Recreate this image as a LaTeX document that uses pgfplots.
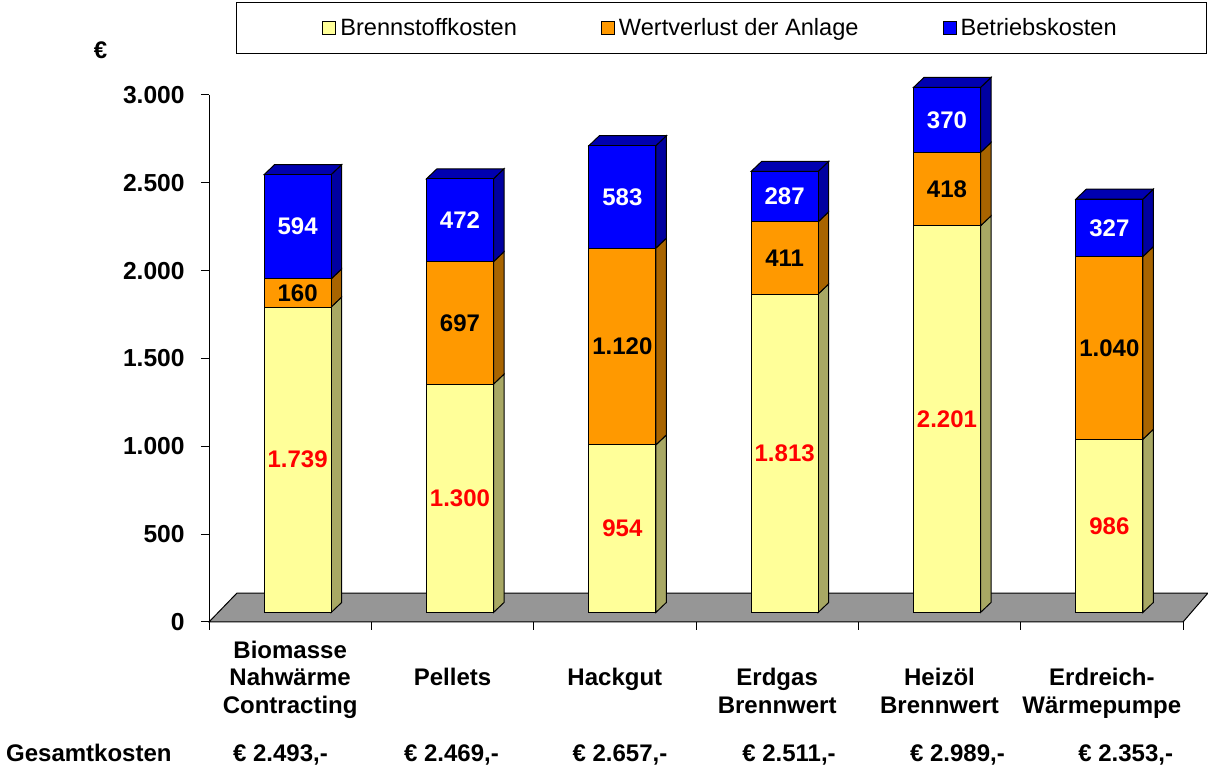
\documentclass[border=0pt]{standalone}
\usepackage{pgfplots}
\pgfplotsset{compat=1.18}
\usepackage{pgfplotstable}
\usepackage{fontspec}
\setmainfont{Liberation Sans}

\definecolor{yel}{RGB}{255,255,153}
\definecolor{yelS}{RGB}{168,168,100}
\definecolor{ora}{RGB}{255,153,0}
\definecolor{oraS}{RGB}{168,100,0}
\definecolor{blu}{RGB}{0,0,255}
\definecolor{bluS}{RGB}{0,0,160}
\definecolor{bluT}{RGB}{0,0,176}
\definecolor{floorgray}{RGB}{150,150,150}

\pgfplotstableread{
x B W Be
0 1739 160 594
1 1300 697 472
2 954 1120 583
3 1813 411 287
4 2201 418 370
5 986 1040 327
}\data

\begin{document}
\begin{tikzpicture}
\useasboundingbox (-104.5pt,-73.5pt) rectangle (499.5pt,311pt);
\pgfplotsset{
  base/.style={scale only axis, width=487pt, height=263.5pt,
    xmin=-0.5, xmax=5.5, ymin=0, ymax=3000, clip=false},
  face/.style={draw=black, line width=0.5pt},
  barlab/.style={nodes near coords={\pgfmathprintnumber[assume math mode=true,1000 sep={.}]{\pgfplotspointmeta}},
    every node near coord/.append style={anchor=center, text=#1,
    font=\bfseries\fontsize{12}{14}\selectfont}},
}
% ---------- front plane: axes and floor ----------
\begin{axis}[base,
  axis x line*=bottom, axis y line*=left,
  axis line style={black, line width=0.5pt},
  tick align=outside,
  major tick length=4pt, minor tick length=4pt,
  ytick={0,500,...,3000},
  y tick style={black, line width=0.5pt},
  yticklabel={\bfseries\fontsize{12.3}{14}\selectfont\pgfmathprintnumber[assume math mode=true,1000 sep={.}]{\tick}},
  yticklabel style={inner sep=0pt, anchor=east, xshift=-8pt},
  xtick={0,...,5},
  major x tick style={draw=none},
  minor xtick={-0.5,0.5,...,5.5},
  minor x tick style={black, line width=0.5pt},
  xticklabel style={font=\bfseries\fontsize{12}{13.75}\selectfont, align=center, anchor=north, yshift=-1pt},
  xticklabels={{\strut Biomasse\\Nahwärme\\Contracting},{\strut\\Pellets},{\strut\\Hackgut},{\strut\\Erdgas\\Brennwert},{\strut\\Heizöl\\Brennwert},{\strut\\Erdreich-\\Wärmepumpe}},
]
\addplot[fill=floorgray, face] coordinates {(-0.5,0) (5.5,0) (5.654,165) (-0.3275,165)} -- cycle;
\end{axis}

% ---------- side and top faces of the bars ----------
\begin{axis}[base, at={(3.75pt,4.75pt)}, hide axis]
% bar 0
\addplot[fill=yelS, face] coordinates {(0.2064,0) (0.2711,57) (0.2711,1796) (0.2064,1739)} -- cycle;
\addplot[fill=oraS, face] coordinates {(0.2064,1739) (0.2711,1796) (0.2711,1956) (0.2064,1899)} -- cycle;
\addplot[fill=bluS, face] coordinates {(0.2064,1899) (0.2711,1956) (0.2711,2550) (0.2064,2493)} -- cycle;
\addplot[fill=bluT, face] coordinates {(-0.2064,2493) (-0.1417,2550) (0.2711,2550) (0.2064,2493)} -- cycle;
% bar 1
\addplot[fill=yelS, face] coordinates {(1.2064,0) (1.2711,57) (1.2711,1357) (1.2064,1300)} -- cycle;
\addplot[fill=oraS, face] coordinates {(1.2064,1300) (1.2711,1357) (1.2711,2054) (1.2064,1997)} -- cycle;
\addplot[fill=bluS, face] coordinates {(1.2064,1997) (1.2711,2054) (1.2711,2526) (1.2064,2469)} -- cycle;
\addplot[fill=bluT, face] coordinates {(0.7936,2469) (0.8583,2526) (1.2711,2526) (1.2064,2469)} -- cycle;
% bar 2
\addplot[fill=yelS, face] coordinates {(2.2064,0) (2.2711,57) (2.2711,1011) (2.2064,954)} -- cycle;
\addplot[fill=oraS, face] coordinates {(2.2064,954) (2.2711,1011) (2.2711,2131) (2.2064,2074)} -- cycle;
\addplot[fill=bluS, face] coordinates {(2.2064,2074) (2.2711,2131) (2.2711,2714) (2.2064,2657)} -- cycle;
\addplot[fill=bluT, face] coordinates {(1.7936,2657) (1.8583,2714) (2.2711,2714) (2.2064,2657)} -- cycle;
% bar 3
\addplot[fill=yelS, face] coordinates {(3.2064,0) (3.2711,57) (3.2711,1870) (3.2064,1813)} -- cycle;
\addplot[fill=oraS, face] coordinates {(3.2064,1813) (3.2711,1870) (3.2711,2281) (3.2064,2224)} -- cycle;
\addplot[fill=bluS, face] coordinates {(3.2064,2224) (3.2711,2281) (3.2711,2568) (3.2064,2511)} -- cycle;
\addplot[fill=bluT, face] coordinates {(2.7936,2511) (2.8583,2568) (3.2711,2568) (3.2064,2511)} -- cycle;
% bar 4
\addplot[fill=yelS, face] coordinates {(4.2064,0) (4.2711,57) (4.2711,2258) (4.2064,2201)} -- cycle;
\addplot[fill=oraS, face] coordinates {(4.2064,2201) (4.2711,2258) (4.2711,2676) (4.2064,2619)} -- cycle;
\addplot[fill=bluS, face] coordinates {(4.2064,2619) (4.2711,2676) (4.2711,3046) (4.2064,2989)} -- cycle;
\addplot[fill=bluT, face] coordinates {(3.7936,2989) (3.8583,3046) (4.2711,3046) (4.2064,2989)} -- cycle;
% bar 5
\addplot[fill=yelS, face] coordinates {(5.2064,0) (5.2711,57) (5.2711,1043) (5.2064,986)} -- cycle;
\addplot[fill=oraS, face] coordinates {(5.2064,986) (5.2711,1043) (5.2711,2083) (5.2064,2026)} -- cycle;
\addplot[fill=bluS, face] coordinates {(5.2064,2026) (5.2711,2083) (5.2711,2410) (5.2064,2353)} -- cycle;
\addplot[fill=bluT, face] coordinates {(4.7936,2353) (4.8583,2410) (5.2711,2410) (5.2064,2353)} -- cycle;
\end{axis}

% ---------- front faces: stacked bars ----------
\begin{axis}[base, at={(3.75pt,4.75pt)}, hide axis,
  ybar stacked, bar width=33.5pt,
  legend columns=3,
  legend image code/.code={\draw[#1, draw=black, line width=0.5pt] (0pt,-3.25pt) rectangle (6.5pt,3.25pt);},
  legend style={at={(axis description cs:0.5185,1.1091)}, anchor=center,
    draw=black, line width=0.5pt, inner xsep=43pt, inner ysep=5.5pt,
    font=\fontsize{11.8}{14}\selectfont,
    /tikz/every even column/.append style={column sep=40pt}},
]
\addplot[fill=yel, face, point meta=explicit, barlab=red]
  table[x=x, y=B, meta=B] {\data};
\addplot[fill=ora, face, point meta=explicit, barlab=black]
  table[x=x, y=W, meta=W] {\data};
\addplot[fill=blu, face, point meta=explicit, barlab=white]
  table[x=x, y=Be, meta=Be] {\data};
\legend{Brennstoffkosten, Wertverlust der Anlage, Betriebskosten}
\end{axis}

% ---------- texts outside the axes ----------
\begin{scope}[every node/.style={font=\bfseries\fontsize{12}{14}\selectfont, inner sep=0pt}]
\node[anchor=base] at (-54.25pt,281.5pt) {€};
\node[anchor=base east] at (-18.5pt,-70pt) {Gesamtkosten};
\node[anchor=base] at (35.75pt,-70pt) {€ 2.493,-};
\node[anchor=base] at (121.25pt,-70pt) {€ 2.469,-};
\node[anchor=base] at (205.5pt,-70pt) {€ 2.657,-};
\node[anchor=base] at (290pt,-70pt) {€ 2.511,-};
\node[anchor=base] at (374.25pt,-70pt) {€ 2.989,-};
\node[anchor=base] at (458.35pt,-70pt) {€ 2.353,-};
\end{scope}
\end{tikzpicture}
\end{document}
